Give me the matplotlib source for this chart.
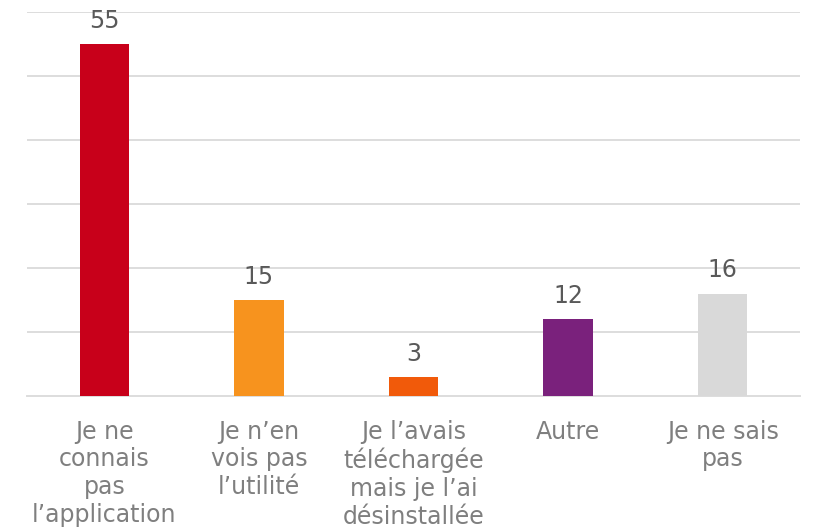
import matplotlib
matplotlib.use("Agg")
import matplotlib.pyplot as plt

plt.rcParams["font.family"] = ["DejaVu Sans"]

categories = ["Je ne\nconnais\npas\nl\u2019application",
              "Je n\u2019en\nvois pas\nl\u2019utilit\u00e9",
              "Je l\u2019avais\nt\u00e9l\u00e9charg\u00e9e\nmais je l\u2019ai\nd\u00e9sinstall\u00e9e",
              "Autre",
              "Je ne sais\npas"]
values = [55, 15, 3, 12, 16]
colors = ["#C8001A", "#F7931E", "#F15A0A", "#7A217C", "#D9D9D9"]

fig = plt.figure(figsize=(8.13, 5.31), dpi=100)
ax = fig.add_axes([27 / 813, (531 - 396) / 531, 773 / 813, 384 / 531])

x = range(len(values))
bars = ax.bar(x, values, width=0.32, color=colors, zorder=3)

ax.set_xlim(-0.5, len(values) - 0.5)
ax.set_ylim(0, 60)
ax.set_yticks(range(0, 61, 10))
ax.yaxis.grid(True, color="#DDDDDD", linewidth=1.4, zorder=0)
ax.tick_params(axis="y", length=0, labelleft=False)
ax.tick_params(axis="x", length=0, pad=17)
ax.set_xticks(list(x))
ax.set_xticklabels(categories, fontsize=17, color="#7F7F7F", linespacing=1.2, va="top")

for s in ["top", "right", "left"]:
    ax.spines[s].set_visible(False)
ax.spines["bottom"].set_color("#DDDDDD")
ax.spines["bottom"].set_linewidth(1.4)

for b, v in zip(bars, values):
    ax.annotate(str(v), (b.get_x() + b.get_width() / 2, v), xytext=(0, 8),
                textcoords="offset points", ha="center", va="bottom",
                fontsize=17, color="#595959", clip_on=False)

fig.savefig("out.png", dpi=100)
